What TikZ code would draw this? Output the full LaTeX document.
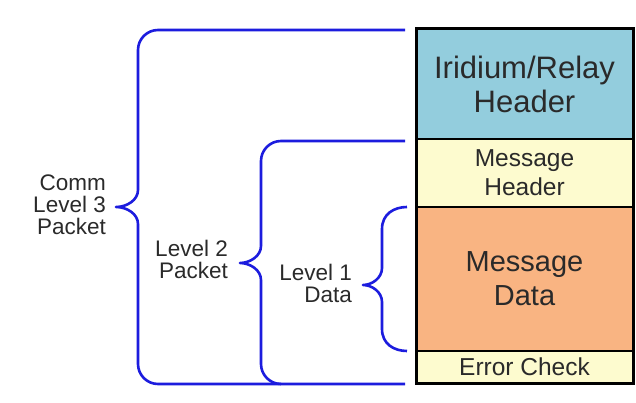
\documentclass[tikz,border=0pt]{standalone}
\usepackage{fontspec}
\setmainfont{Liberation Sans}
\definecolor{hdrblue}{HTML}{93CDDD}
\definecolor{msgyellow}{HTML}{FDFBCF}
\definecolor{dataorange}{HTML}{F9B482}
\definecolor{bracketblue}{RGB}{28,28,222}
\definecolor{txtgray}{HTML}{2A2A2A}
\tikzset{
  field/.style={draw=black, line width=1.8pt, minimum width=217pt, inner sep=0pt, outer sep=0pt, align=center, text=txtgray},
  lbl/.style={anchor=east, align=right, inner sep=0pt, text=txtgray, font=\fontsize{22.5}{22}\selectfont},
  brace/.style={draw=bracketblue, line width=2.6pt, line join=round}
}
\begin{document}
\begin{tikzpicture}[x=1pt,y=-1pt]
\useasboundingbox[fill=white] (0,0) rectangle (636,403);

\node[field, fill=hdrblue, minimum height=110pt, font=\fontsize{31}{34}\selectfont] (v1) at (524.5,84) {Iridium/Relay\\Header};
\node[field, fill=msgyellow, minimum height=68pt, font=\fontsize{24.5}{29}\selectfont] (v2) at (524.5,173) {Message\\Header};
\node[field, fill=dataorange, minimum height=144pt, font=\fontsize{29}{34}\selectfont] (v3) at (524.5,279) {Message\\Data};
\node[field, fill=msgyellow, minimum height=32pt, font=\fontsize{24.5}{26}\selectfont] (v4) at (524.5,367) {Error Check};
\draw[line width=3pt] (v1.north west) rectangle (v4.south east);

\node[lbl] (l3) at (106,205) {Comm\\Level 3\\Packet};
\node[lbl] (l2) at (228,259) {Level 2\\Packet};
\node[lbl] (l1) at (352,283) {Level 1\\Data};

\coordinate (t3) at (405,30);
\coordinate (b3) at (405,384);
\coordinate (p3) at (116,207);
\coordinate (t2) at (405,141);
\coordinate (p2) at (240,263);
\coordinate (t1) at (407,207);
\coordinate (b1) at (407,351);
\coordinate (p1) at (363,285);

\draw[brace] (t3) -- (158,30) .. controls (147,30) and (138,39) .. (138,50) -- (138,190)
  .. controls (138,200) and (127,207) .. (p3) .. controls (127,207) and (138,214) .. (138,224)
  -- (138,364) .. controls (138,375) and (147,384) .. (158,384) -- (b3);
\draw[brace] (t2) -- (281,141) .. controls (270,141) and (261,150) .. (261,161) -- (261,246)
  .. controls (261,256) and (250,263) .. (p2) .. controls (250,263) and (261,270) .. (261,280)
  -- (261,364) .. controls (261,375) and (270,384) .. (281,384);
\draw[brace] (t1) .. controls (394,207) and (382,214) .. (382,229) -- (382,268)
  .. controls (382,278) and (372,285) .. (p1) .. controls (372,285) and (382,292) .. (382,302)
  -- (382,329) .. controls (382,344) and (394,351) .. (b1);
\end{tikzpicture}
\end{document}
